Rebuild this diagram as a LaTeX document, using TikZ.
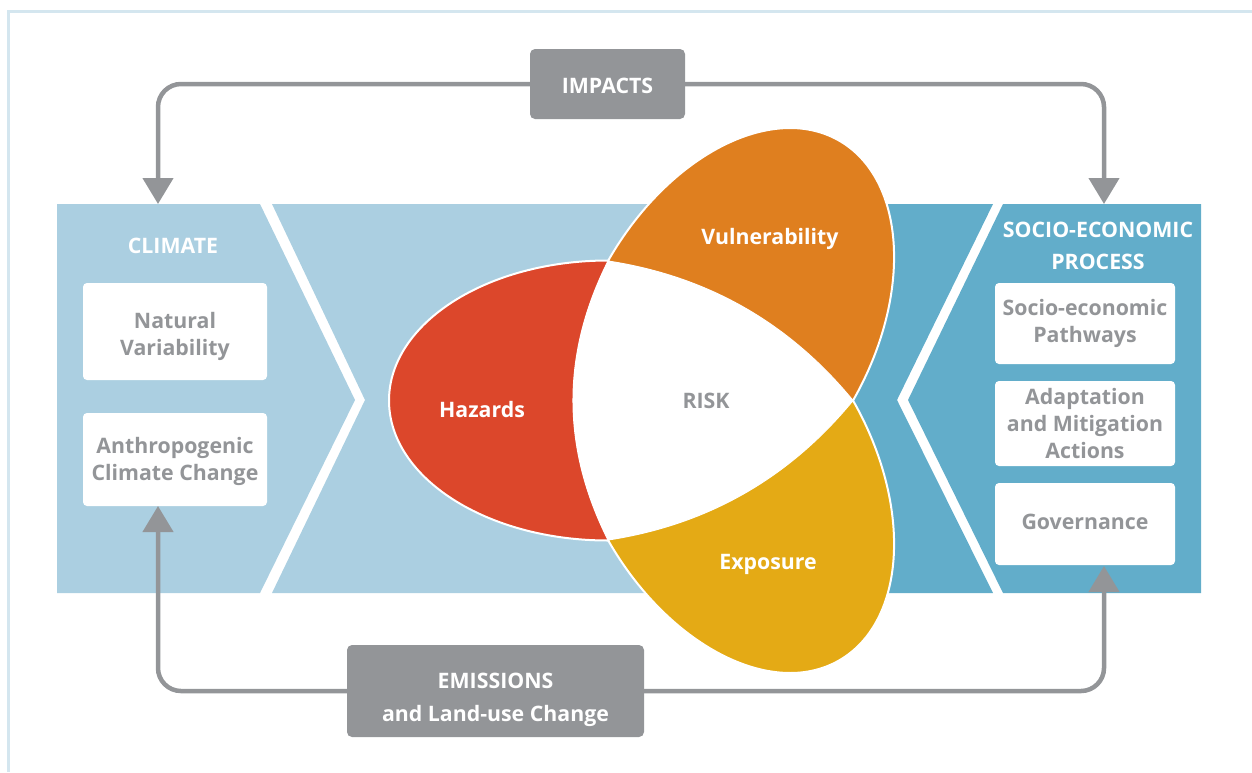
\documentclass[tikz,border=0pt]{standalone}
\usepackage{fontspec}
\setmainfont{Open Sans}
\usetikzlibrary{arrows.meta}
\definecolor{bandlight}{HTML}{ABCFE1}
\definecolor{banddark}{HTML}{62ADCA}
\definecolor{hazred}{HTML}{DC472B}
\definecolor{vulorange}{HTML}{DF7F1F}
\definecolor{expyellow}{HTML}{E4AA15}
\definecolor{greyc}{HTML}{939598}
\definecolor{framec}{HTML}{D4E6EF}
\begin{document}
\begin{tikzpicture}[x=1pt,y=-1pt,
  txt/.style={font=\fontsize{21.3}{27}\selectfont\bfseries, align=center, inner sep=0pt},
  wbox/.style={fill=white, rounded corners=4pt, inner sep=0pt},
  boxtxt/.style={txt, text=greyc},
  gbox/.style={fill=greyc, rounded corners=5pt, inner sep=0pt},
  petal/.style={draw=white, line width=2pt},
  lab/.style={txt, text=white},
  conn/.style={draw=greyc, line width=4.5pt, rounded corners=23pt, -{Triangle[width=30pt,length=26pt]}}]
\useasboundingbox (0,0) rectangle (1252,772);
% frame
\draw[framec, line width=3pt] (8.5,772) -- (8.5,11) -- (1252,11);
% bands
\fill[bandlight] (57,204) -- (260,204) -- (355,400) -- (260,593) -- (57,593) -- cycle;
\fill[bandlight] (272,204) -- (770,204) -- (770,593) -- (272,593) -- (365,400) -- cycle;
\fill[banddark] (770,204) -- (993,204) -- (897,400) -- (993,593) -- (770,593) -- cycle;
\fill[banddark] (1003,204) -- (1201,204) -- (1201,593) -- (1003,593) -- (908,400) -- cycle;
% petals
\coordinate (A) at (608,261);
\coordinate (B) at (853,400.5);
\coordinate (C) at (608,540);
\begin{scope}[shift={(608,400.5)}, rotate=180]
  \filldraw[petal, fill=hazred] (0,140) arc[start angle=90, end angle=-90, x radius=219, y radius=140] -- cycle;
\end{scope}
\begin{scope}[shift={(730.5,330.75)}, rotate=60.34]
  \filldraw[petal, fill=vulorange] (0,141) arc[start angle=90, end angle=-90, x radius=219, y radius=141] -- cycle;
\end{scope}
\begin{scope}[shift={(730.5,470.25)}, rotate=-60.34]
  \filldraw[petal, fill=expyellow] (0,141) arc[start angle=90, end angle=-90, x radius=219, y radius=141] -- cycle;
\end{scope}
\filldraw[draw=white, line width=1pt, fill=white] (A) .. controls (707.5,276.2) and (789.1,322.7) .. (B)
  .. controls (789.1,478.3) and (707.5,524.8) .. (C)
  .. controls (561.3,447) and (561.3,354) .. (A) -- cycle;
% petal labels
\node[lab] (haz) at (482,410) {Hazards};
\node[lab] (vul) at (770,239) {Vulnerability};
\node[lab] (exp) at (768,564) {Exposure};
\node[txt, text=greyc] (risk) at (706,401) {RISK};
% band titles
\node[lab] (climate) at (173,245.5) {CLIMATE};
\node[lab, font=\fontsize{21.3}{32}\selectfont\bfseries] (socio) at (1098,246) {SOCIO-ECONOMIC\\PROCESS};
% white boxes
\node[wbox, minimum width=184pt, minimum height=97pt] (natural) at (175,331.5) {};
\node[boxtxt] (naturaltxt) at (175,336.5) {Natural\\Variability};
\node[wbox, minimum width=184pt, minimum height=93pt] (anthro) at (175,459.5) {};
\node[boxtxt] (anthrotxt) at (175,461) {Anthropogenic\\Climate Change};
\node[wbox, minimum width=180pt, minimum height=81pt] (pathways) at (1085,323.5) {};
\node[boxtxt] (pathwaystxt) at (1085,323) {Socio-economic\\Pathways};
\node[wbox, minimum width=180pt, minimum height=85pt] (adapt) at (1085,423.5) {};
\node[boxtxt] (adapttxt) at (1085,423.5) {Adaptation\\and Mitigation\\Actions};
\node[wbox, minimum width=180pt, minimum height=82pt] (gov) at (1085,524) {};
\node[boxtxt] (govtxt) at (1085,522) {Governance};
% grey boxes
\node[gbox, minimum width=155pt, minimum height=70pt] (impacts) at (607.5,84) {};
\node[lab] (impactstxt) at (607.5,85.5) {IMPACTS};
\node[gbox, minimum width=297pt, minimum height=92pt] (emis) at (495.5,691) {};
\node[lab, font=\fontsize{21.3}{33.5}\selectfont\bfseries] (emistxt) at (495.5,700) {EMISSIONS\\and Land-use Change};
% connector ends
\coordinate (climtop) at (158,204);
\coordinate (socetop) at (1104,204);
\coordinate (anthtip) at (158,506);
\coordinate (govtip) at (1104,566);
\draw[conn] (impacts.west) -| (climtop);
\draw[conn] (impacts.east) -| (socetop);
\draw[conn] (emis.west) -| (anthtip);
\draw[conn] (emis.east) -| (govtip);
\end{tikzpicture}
\end{document}
